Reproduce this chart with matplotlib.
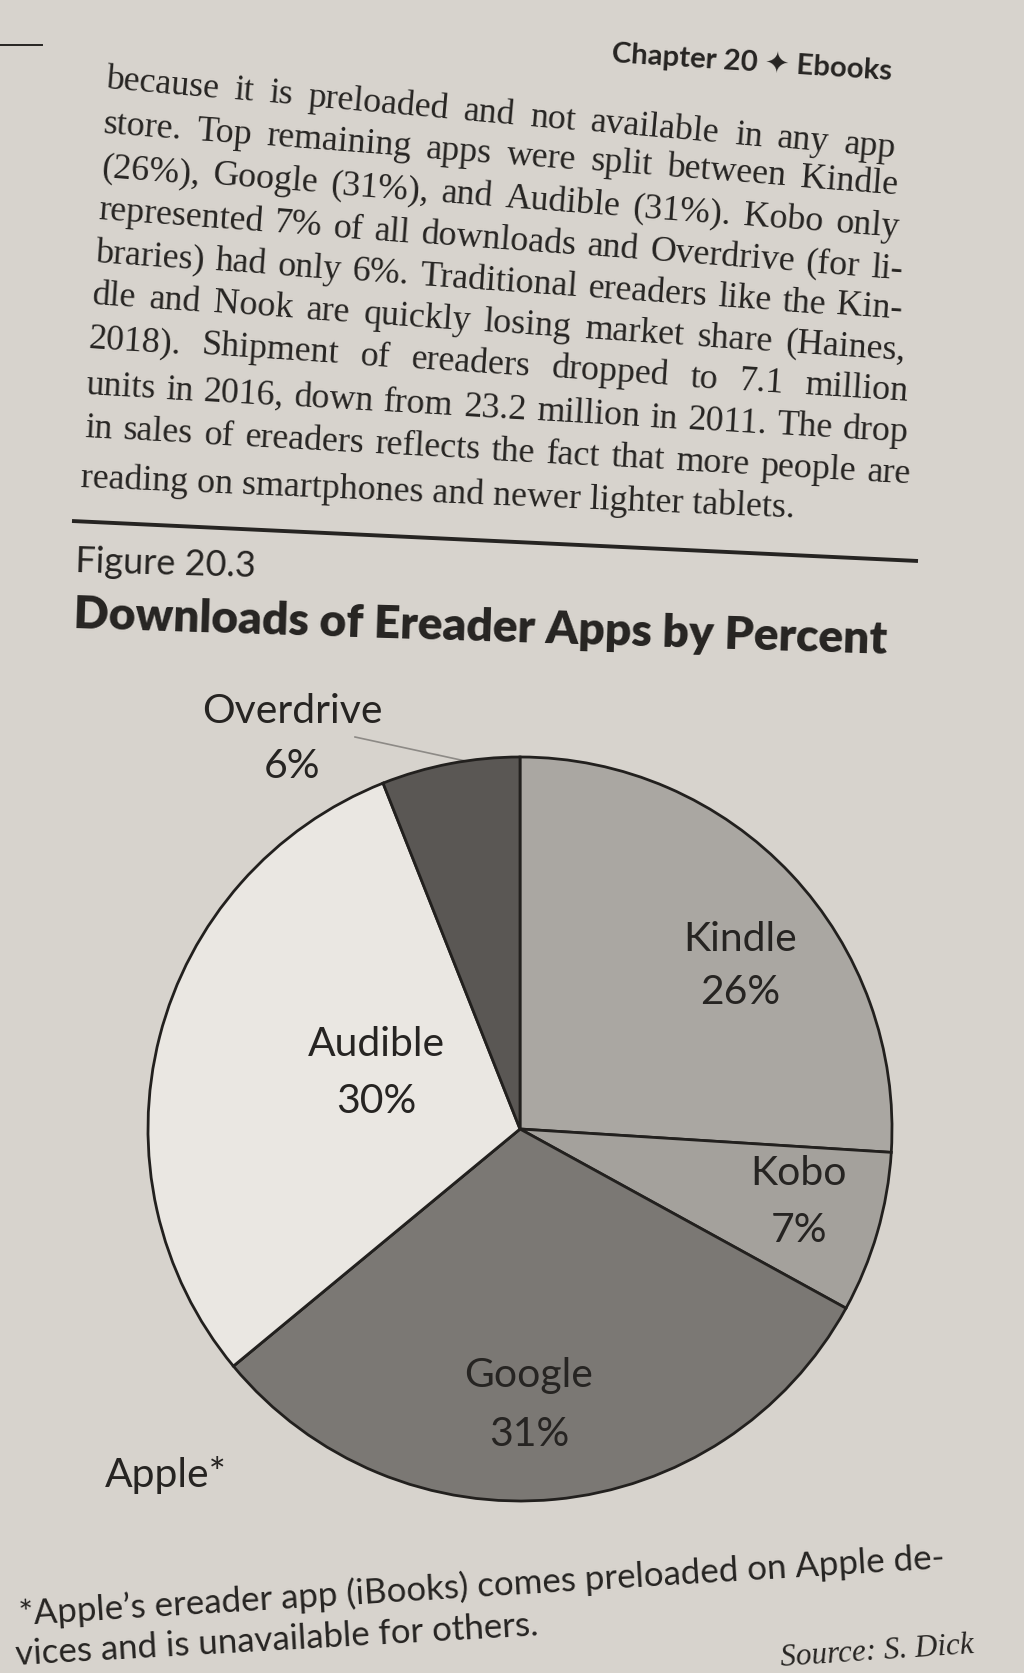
import math
import matplotlib
matplotlib.use("Agg")
import matplotlib.pyplot as plt

# pie data (clockwise from 12 o'clock)
apps = ["Kindle", "Kobo", "Google", "Apple*", "Audible", "Overdrive"]
shares = [26, 7, 31, 0, 30, 6]
slice_colors = ["#aaa7a2", "#a4a19c", "#7b7874", "#7b7874", "#eae7e2", "#5a5754"]

body_lines = [
    "because it is preloaded and not available in any app",
    "store. Top remaining apps were split between Kindle",
    "(26%), Google (31%), and Audible (31%). Kobo only",
    "represented 7% of all downloads and Overdrive (for li-",
    "braries) had only 6%. Traditional ereaders like the Kin-",
    "dle and Nook are quickly losing market share (Haines,",
    "2018). Shipment of ereaders dropped to 7.1 million",
    "units in 2016, down from 23.2 million in 2011. The drop",
    "in sales of ereaders reflects the fact that more people are",
    "reading on smartphones and newer lighter tablets.",
]
footnote_lines = [
    "*Apple\u2019s ereader app (iBooks) comes preloaded on Apple de-",
    "vices and is unavailable for others.",
]

PAGE = "#d7d3cd"
INK = "#262422"
EDGE = "#22201e"

# baseline start / end points of each body line (page pixels, y down)
body_pos = [
    ((105, 88), (895, 158)), ((103, 133), (897, 194)), ((101, 176), (899, 237)),
    ((98, 219), (902, 279)), ((95, 262), (902, 319)), ((92, 304), (905, 360)),
    ((88, 347), (908, 401)), ((85, 394), (908, 442)), ((84, 437), (910, 483)),
    ((80, 487), (853, 520)),
]

W, H = 1024, 1674
fig = plt.figure(figsize=(W / 100, H / 100), dpi=100, facecolor=PAGE)
page = fig.add_axes([0, 0, 1, 1])
page.set_xlim(0, W)
page.set_ylim(H, 0)
page.axis("off")
renderer = fig.canvas.get_renderer()


def measure(s, size, **kw):
    t = page.text(0, 0, s, fontsize=size, **kw)
    w = t.get_window_extent(renderer).width
    t.remove()
    return w


def put_line(p0, p1, s, size, justify=False, **kw):
    a = math.atan2(p1[1] - p0[1], p1[0] - p0[0])
    rot = -math.degrees(a)
    opts = dict(fontsize=size, color=INK, rotation=rot, rotation_mode="anchor",
                ha="left", va="baseline")
    opts.update(kw)
    if not justify:
        page.text(p0[0], p0[1], s, **opts)
        return
    words = s.split()
    fk = {k: v for k, v in kw.items() if k in ("family", "fontweight", "fontstyle")}
    ws = [measure(w, size, **fk) for w in words]
    L = math.hypot(p1[0] - p0[0], p1[1] - p0[1])
    gap = (L - sum(ws)) / (len(words) - 1)
    d = 0
    for w, wd in zip(words, ws):
        page.text(p0[0] + d * math.cos(a), p0[1] + d * math.sin(a), w, **opts)
        d += wd + gap


def fit_size(s, p0, p1, **kw):
    L = math.hypot(p1[0] - p0[0], p1[1] - p0[1])
    return 10 * L / measure(s, 10, **kw)


# header
hdr_font = dict(family=["Lato", "DejaVu Sans"], fontweight="bold")
hdr = "Chapter 20 \u2726 Ebooks"
put_line((611, 62), (892, 80), hdr, fit_size(hdr, (611, 62), (892, 80), **hdr_font), **hdr_font)
page.plot([0, 42], [46, 46], color=INK, lw=1.4)

# body paragraph, justified
serif = dict(family="Liberation Serif")
ratios = []
for s, (p0, p1) in zip(body_lines[:-1], body_pos[:-1]):
    L = math.hypot(p1[0] - p0[0], p1[1] - p0[1])
    ratios.append(L / measure(s, 10, **serif))
body_fs = 10 * min(ratios) * 0.985
for i, (s, (p0, p1)) in enumerate(zip(body_lines, body_pos)):
    put_line(p0, p1, s, body_fs, justify=i < len(body_lines) - 1, **serif)

# rule and figure caption
page.plot([72, 918], [522, 562], color=INK, lw=2.8, solid_capstyle="butt")
lato = dict(family="Lato")
cap = "Figure 20.3"
put_line((75, 572), (255, 577), cap, fit_size(cap, (75, 572), (255, 577), **lato), **lato)
title = "Downloads of Ereader Apps by Percent"
tfont = dict(family="Lato", fontweight="heavy")
put_line((73, 628), (892, 654), title, fit_size(title, (73, 628), (892, 654), **tfont), **tfont)

# pie
cx, cy, r = 520, 1130, 372
box = 2.5 * r
ax = fig.add_axes([(cx - box / 2) / W, (H - cy - box / 2) / H, box / W, box / H])
ax.pie(shares, colors=slice_colors, startangle=90, counterclock=False, radius=1,
       wedgeprops=dict(edgecolor=EDGE, linewidth=2.0))
ax.set_xlim(-1.25, 1.25)
ax.set_ylim(-1.25, 1.25)
ax.set_aspect("equal")
ax.set_facecolor("none")
ax.axis("off")

# slice labels: (centre x, name baseline, pct baseline) in page pixels
label_pos = {
    "Kindle": (740, 951, 1004),
    "Kobo": (799, 1185, 1242),
    "Google": (529, 1387, 1446),
    "Audible": (376, 1056, 1113),
    "Overdrive": (292, 723, 778),
}
lab_fs = 10 * 181 / measure("Overdrive", 10, family="Lato")
for name, val in zip(apps, shares):
    if name in label_pos:
        x, yn, yp = label_pos[name]
        for y, s in ((yn, name), (yp, f"{val}%")):
            ax.text(x, y, s, transform=page.transData, clip_on=False,
                    fontsize=lab_fs, family="Lato", color=INK,
                    ha="center", va="baseline")
ax.text(105, 1487, "Apple*", transform=page.transData, clip_on=False,
        fontsize=lab_fs, family="Lato", color=INK, ha="left", va="baseline")
page.plot([355, 470], [738, 763], color="#8d8a86", lw=1.2)

# footnote and source
fn_fs = fit_size(footnote_lines[0], (20, 1625), (948, 1568), **lato)
put_line((20, 1625), (948, 1568), footnote_lines[0], fn_fs, **lato)
put_line((16, 1665), (562, 1634), footnote_lines[1], fn_fs, **lato)
src_font = dict(family="Liberation Serif", fontstyle="italic")
src = "Source: S. Dick"
put_line((781, 1666), (974, 1653), src, fit_size(src, (781, 1666), (974, 1653), **src_font), **src_font)

fig.savefig("out.png", dpi=100, facecolor=PAGE)
